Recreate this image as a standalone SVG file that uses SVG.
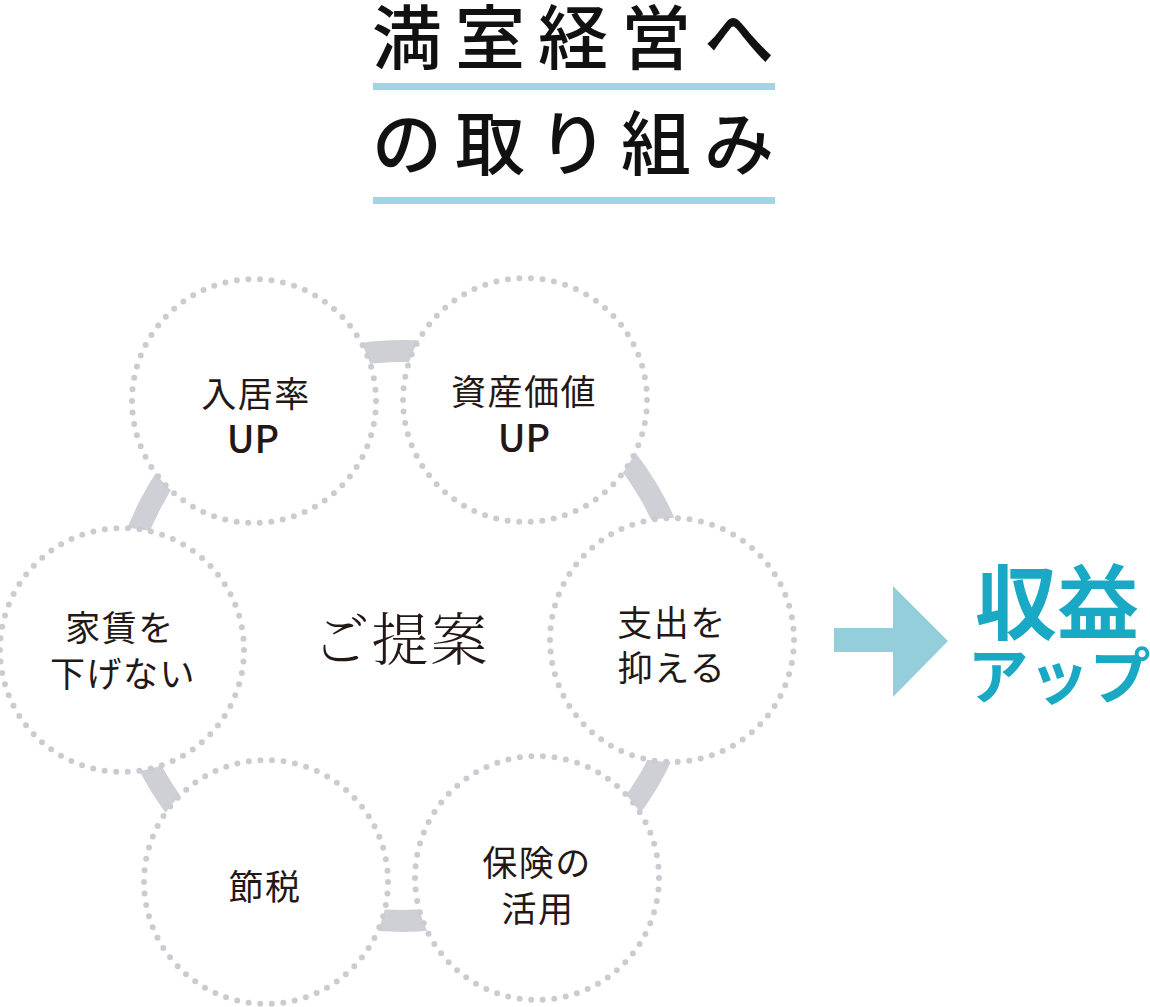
<svg xmlns="http://www.w3.org/2000/svg" width="1150" height="1007" viewBox="0 0 1150 1007">
<style>
.title{font-family:"Noto Sans CJK JP","Noto Sans",sans-serif;font-weight:500;font-size:70px;letter-spacing:13px;fill:#111}
.rule{fill:#9dd7e5}
.band{fill:none;stroke:#cfd0d6;stroke-width:22}
.node{fill:#fff;stroke:#cbccd2;stroke-width:6;stroke-linecap:round;stroke-dasharray:0 11.613}
.lbl{font-family:"Noto Sans CJK JP","Noto Sans",sans-serif;font-weight:400;font-size:35px;letter-spacing:1.5px;fill:#231815;text-anchor:middle}
.up{font-family:"Noto Sans CJK JP","Noto Sans",sans-serif;font-weight:500;font-size:38px;fill:#231815;text-anchor:middle}
.center{font-family:"Noto Serif CJK JP","Noto Sans CJK JP",serif;font-weight:300;font-size:57px;letter-spacing:2px;fill:#231815;text-anchor:middle}
.result{font-family:"Noto Sans CJK JP","Noto Sans",sans-serif;font-weight:700;fill:#1aa9c5;text-anchor:middle}
</style>
<g id="title">
<text class="title" x="372" y="64">満室経営へ</text>
<rect class="rule" x="373" y="83" width="402" height="7"/>
<text class="title" x="372" y="170">の取り組み</text>
<rect class="rule" x="373" y="197" width="402" height="7"/>
</g>
<g id="connectors">
<path class="band" d="M250.3 395.4 A285 285 0 0 1 533.7 382.8"/>
<path class="band" d="M533.7 382.8 A285 285 0 0 1 688 640.2"/>
<path class="band" d="M688 640.2 A285 285 0 0 1 541.2 885.3"/>
<path class="band" d="M541.2 885.3 A285 285 0 0 1 264.4 885"/>
<path class="band" d="M264.4 885 A285 285 0 0 1 118.4 650.4"/>
<path class="band" d="M118.4 650.4 A285 285 0 0 1 250.3 395.4"/>
</g>
<g id="node-occupancy">
<circle class="node" cx="254" cy="401" r="122"/>
<text class="lbl" x="256" y="407">入居率</text>
<text class="up" x="253" y="453">UP</text>
</g>
<g id="node-asset">
<circle class="node" cx="525" cy="400" r="122"/>
<text class="lbl" x="524" y="405">資産価値</text>
<text class="up" x="524" y="452">UP</text>
</g>
<g id="node-expense">
<circle class="node" cx="672" cy="640" r="122"/>
<text class="lbl" x="672" y="636">支出を</text>
<text class="lbl" x="672" y="681">抑える</text>
</g>
<g id="node-insurance">
<circle class="node" cx="537" cy="878" r="122"/>
<text class="lbl" x="537" y="876">保険の</text>
<text class="lbl" x="538" y="922">活用</text>
</g>
<g id="node-tax">
<circle class="node" cx="266" cy="882" r="122"/>
<text class="lbl" x="265" y="900">節税</text>
</g>
<g id="node-rent">
<circle class="node" cx="122" cy="650" r="122"/>
<text class="lbl" x="120" y="641">家賃を</text>
<text class="lbl" x="123" y="687">下げない</text>
</g>
<g id="center">
<text class="center" x="401" y="660">ご提案</text>
</g>
<g id="arrow">
<polygon points="834,628 893,628 893,586 948,641 893,697 893,652 834,652" fill="#93ceda"/>
</g>
<g id="result">
<text class="result" x="1057" y="633" font-size="82">収益</text>
<text class="result" x="1059" y="699" font-size="61">アップ</text>
</g>
</svg>
